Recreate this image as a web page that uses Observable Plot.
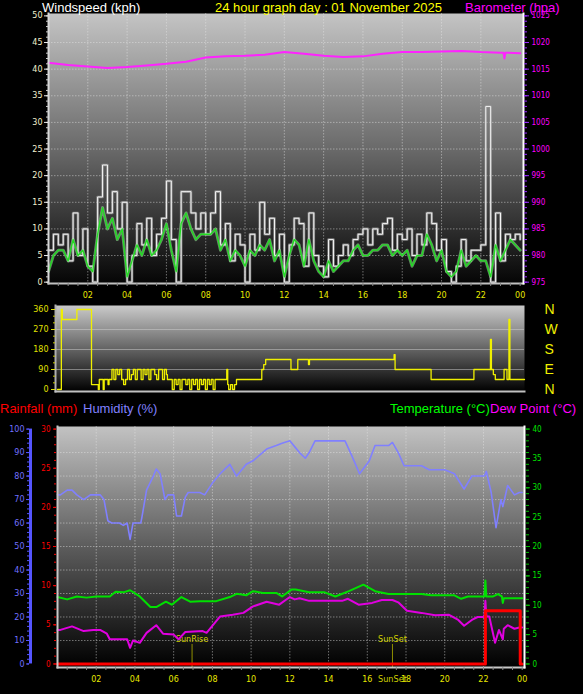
<!DOCTYPE html>
<html><head><meta charset="utf-8">
<script src="https://cdn.jsdelivr.net/npm/d3@7"></script>
<script src="https://cdn.jsdelivr.net/npm/@observablehq/plot@0.6"></script>
<style>
html,body{margin:0;padding:0;background:#000;}
#wrap{position:relative;width:583px;height:694px;background:#000;overflow:hidden;font-family:"Liberation Sans",Arial,sans-serif;}
.panel{position:absolute;left:0;}
.ttl{position:absolute;font-size:13px;line-height:13px;white-space:nowrap;}
</style></head><body>
<div id="wrap">
<div class="panel" id="p1" style="top:0"></div>
<div class="panel" id="p2" style="top:300px"></div>
<div class="panel" id="p3" style="top:400px"></div>
<div class="ttl" style="left:42px;top:1px;color:#ffffff">Windspeed (kph)</div>
<div class="ttl" style="left:215px;top:1px;color:#ffff00">24 hour graph day : 01 November 2025</div>
<div class="ttl" style="left:465px;top:1px;color:#ff00ff">Barometer (hpa)</div>
<div class="ttl" style="left:0px;top:402px;color:#ff0000">Rainfall (mm)</div>
<div class="ttl" style="left:83px;top:402px;color:#8080ff">Humidity (%)</div>
<div class="ttl" style="left:390px;top:402px;color:#00ff00">Temperature (°C)</div>
<div class="ttl" style="left:490px;top:402px;color:#ff00ff">Dew Point (°C)</div>
</div>
<script>
// ---------- DATA ----------
const xTicks = [2,4,6,8,10,12,14,16,18,20,22,24];
const windTicks = [0,5,10,15,20,25,30,35,40,45,50];
const baroBase = 975;
const baroTicks = [975,980,985,990,995,1000,1005,1010,1015,1020,1025];

// wind, 15-minute samples from 00:00 to 24:00
const windGust = [
 6,9,7,9, 4,13,5,10, 3,0,16,22, 13,17,10,15,
 0,5,11,7, 12,5,9,12, 19,8,0,17, 17,13,10,13,
 9,13,17,7, 11,4,9,7, 0,9,6,15, 9,12,5,9,
 0,7,12,11, 3,13,5,3, 1,8,3,5, 7,5,8,9,
 10,7,10,9, 11,12,6,9, 8,10,5,9, 7,13,11,6,
 8,2,0,3, 8,4,6,6, 7,33,0,13, 4,9,8,9, 8];
const windAvg = [
 2,5,6,6, 4,8,5,6, 3,2,9,14, 10,12,8,10,
 1,4,7,5, 8,5,6,8, 11,6,2,11, 13,10,8,9,
 9,9,10,6, 8,4,6,5, 3,6,5,7, 6,8,4,6,
 1,5,8,7, 3,8,4,2, 1,4,2,3, 4,4,6,7,
 5,5,6,6, 7,7,5,6, 5,6,3,5, 5,9,7,4,
 6,2,1,2, 6,3,4,5, 4,4,1,7, 4,6,8,7, 6];

const baroTimes  = [0,1,2,3,4,5,6,7,8,9,10,11,12,13,14,15,16,17,18,19,20,21,22,23,23.15,23.2,23.25,24];
const baroValues = [1016.2,1015.8,1015.5,1015.2,1015.4,1015.7,1016.0,1016.4,1017.2,1017.4,1017.5,1017.7,1018.2,1017.9,1017.5,1017.3,1017.4,1017.9,1018.2,1018.2,1018.3,1018.4,1018.2,1018.1,1018.1,1017.0,1018.1,1018.0];

// wind direction (degrees)
const dirTicks = [0,90,180,270,360];
const compass = ["N","E","S","W","N"];
const dirTimes = [0,0.2,0.25,1.0,1.75,2.1,2.15,2.35,2.4,2.6,2.65,
 2.8,2.9,3.0,3.1,3.2,3.3,3.4,3.5,3.6,3.7,3.8,3.9,4.0,4.1,4.3,4.4,4.5,4.6,4.7,4.8,5.0,5.1,5.2,5.4,5.5,5.6,5.65,
 5.9,6.0,6.1,6.2,6.3,6.4,6.6,6.7,6.8,6.9,7.0,7.1,7.2,7.3,7.4,7.5,7.6,7.7,7.8,7.9,8.0,8.1,
 8.7,8.75,8.8,8.9,9.0,9.1,9.2,10.5,10.6,10.7,12.0,12.35,12.9,12.95,17.3,17.35,19.2,21.4,22.25,22.3,22.4,22.5,22.95,23.1,23.2,23.25,24];
const dirValues = [0,360,315,360,22,0,45,0,45,22,45,
 90,45,90,67,90,45,22,45,90,45,67,90,45,90,45,90,67,90,45,90,67,45,90,45,90,67,45,
 0,45,22,45,0,45,22,45,0,45,22,45,0,45,22,45,0,45,22,45,0,45,
 90,22,0,22,0,22,45,90,112,135,90,135,112,135,157,90,45,90,225,90,67,45,90,45,315,45,45];

// bottom panel
const humTicks = [0,10,20,30,40,50,60,70,80,90,100];
const rainTicks = [0,5,10,15,20,25,30];
const tempTicks = [0,5,10,15,20,25,30,35,40];
const humidity = [[0,72],[0.15,72],[0.5,74],[0.75,74],[1.0,72],[1.35,70],[1.7,72],[2.2,72],[2.4,70],[2.6,61],[2.8,60],[3.2,60],[3.4,59],[3.6,60],[3.75,53],[3.9,60],[4.3,60],[4.35,62],[4.6,74],[4.95,80],[5.1,83],[5.3,81],[5.55,70],[5.7,72],[6.0,72],[6.15,63],[6.4,63],[6.6,71],[6.75,73],[7.35,73],[7.6,72],[8.0,77],[8.4,81],[8.9,85],[9.25,80],[9.75,85],[10.1,86.5],[10.8,91.5],[11.3,93],[11.6,94],[12.0,95],[12.3,92],[12.5,90],[12.8,87.6],[13.0,90],[13.3,95],[14.85,95],[15.2,88.7],[15.6,81],[16.1,86.4],[16.4,93],[17.1,93],[17.3,94.3],[17.6,90],[17.9,84.4],[18.8,84.4],[19.2,82.7],[20.0,82.7],[20.5,81],[21.0,74.5],[21.4,80],[22.05,80],[22.15,82],[22.4,73],[22.65,58],[22.9,70],[23.0,67],[23.25,76],[23.6,72],[23.85,73],[24,73]];
const temperature = [[0,11.4],[0.5,11.0],[1.0,11.5],[1.5,11.3],[2.0,11.5],[2.7,11.5],[3.0,12.3],[3.4,12.2],[3.75,12.55],[4.25,11.5],[4.8,9.7],[5.1,9.7],[5.6,10.6],[5.9,10.1],[6.4,11.4],[6.85,10.6],[7.35,10.7],[8.2,10.7],[8.9,11.4],[9.25,11.95],[9.75,11.7],[10.1,12.4],[10.6,12.1],[11.3,12.1],[11.6,11.5],[12.1,12.7],[12.3,12.7],[13.0,12.2],[13.8,12.2],[14.35,11.5],[15.05,12.4],[15.8,13.5],[16.4,12.4],[17.1,11.9],[18.8,11.9],[19.3,11.7],[20.5,11.7],[20.85,11.1],[21.2,11.5],[22.05,11.5],[22.1,14.2],[22.15,11.5],[22.5,11.5],[22.75,11.9],[22.95,11.5],[23.0,10.4],[23.05,11.2],[23.85,11.2],[24,11.2]];
const dewPoint = [[0,5.8],[0.15,5.8],[0.75,6.4],[1.35,5.6],[1.85,5.8],[2.2,5.8],[2.55,5.15],[2.7,4.2],[3.6,4.2],[3.75,2.75],[3.9,4.0],[4.25,3.6],[4.6,5.3],[5.1,6.6],[5.45,5.15],[6.0,5.0],[6.25,4.2],[6.6,5.45],[7.5,5.6],[7.7,5.3],[8.4,8.1],[9.05,8.4],[9.6,8.7],[10.1,9.8],[10.8,10.6],[11.45,10.1],[12.0,11.4],[12.25,11.0],[12.5,11.2],[13.0,10.75],[14.7,10.75],[15.0,11.1],[15.55,10.1],[16.25,10.4],[16.75,10.9],[17.3,10.9],[17.6,10.5],[18.05,9.05],[18.8,8.7],[19.5,8.3],[20.2,8.4],[20.7,7.5],[21.0,6.5],[21.4,7.5],[21.7,8.0],[22.05,8.0],[22.1,10.75],[22.15,8.1],[22.3,8.1],[22.6,3.6],[22.8,5.8],[23.0,4.2],[23.05,6.0],[23.25,6.6],[23.6,6.0],[23.85,6.2],[24,6.2]];
const rainfall = [[0,0],[22.1,6.8],[23.9,0],[24,0]];
const sunEvents = [{label:"SunRise", h:6.95},{label:"SunSet", h:17.3}];

// ---------- HELPERS ----------
const fmtHour = d => String(d % 24).padStart(2, "0");
const grid = {stroke:"#e8e8e8", strokeOpacity:0.45, strokeDasharray:"1.5,1.5"};
function addGrad(svg, id, stops) {
  const ns = "http://www.w3.org/2000/svg";
  const defs = document.createElementNS(ns, "defs");
  const g = document.createElementNS(ns, "linearGradient");
  g.setAttribute("id", id); g.setAttribute("x1","0"); g.setAttribute("y1","0"); g.setAttribute("x2","0"); g.setAttribute("y2","1");
  for (const [o, c] of stops) {
    const s = document.createElementNS(ns, "stop");
    s.setAttribute("offset", o); s.setAttribute("stop-color", c); g.appendChild(s);
  }
  defs.appendChild(g); svg.insertBefore(defs, svg.firstChild);
}
const baseStyle = {background:"transparent", color:"#ddd", fontFamily:"DejaVu Sans", fontSize:"8px", overflow:"visible"};

// ---------- TOP PANEL ----------
const windData = windGust.map((g, i) => ({h: i / 4, gust: g, avg: windAvg[i]}));
const baroData = baroTimes.map((h, i) => ({h, p: baroValues[i]}));
const p1 = Plot.plot({
  width:583, height:300, marginLeft:48, marginRight:60, marginTop:13, marginBottom:17,
  style: baseStyle,
  x:{domain:[0,24.17], axis:null},
  y:{domain:[-0.25,50.45], axis:null},
  marks:[
    Plot.frame({fill:"url(#gTop)", stroke:null}),
    Plot.ruleX(xTicks.slice(0,-1), grid),
    Plot.ruleY(windTicks.slice(1,-1), grid),
    Plot.line(windData, {x:"h", y:"gust", curve:"step-after", stroke:"#9a9a9a", strokeWidth:2.6, strokeOpacity:0.75}),
    Plot.line(windData, {x:"h", y:"gust", curve:"step-after", stroke:"#f4f4f4", strokeWidth:1}),
    Plot.line(windData, {x:"h", y:"avg", stroke:"#a8f0a8", strokeWidth:3, strokeOpacity:0.5}),
    Plot.line(windData, {x:"h", y:"avg", stroke:"#22dd22", strokeWidth:1.3}),
    Plot.line(baroData, {x:"h", y:d => d.p - baroBase, stroke:"#ff22ff", strokeWidth:2}),
    Plot.frame({anchor:"left", stroke:"#d8d8d8", strokeWidth:2}),
    Plot.frame({anchor:"bottom", stroke:"#c0c0c0", strokeWidth:2}),
    Plot.frame({anchor:"right", stroke:"#ffffff", strokeWidth:2}),
    Plot.axisY({anchor:"left", ticks:d3.range(0,51), tickSize:2, tickFormat:()=>"", stroke:"#cccccc", label:null}),
    Plot.axisY({anchor:"left", ticks:windTicks, tickSize:4, tickPadding:2, stroke:"#eeeeee", fill:"#f2f0d0", label:null}),
    Plot.axisY({anchor:"right", ticks:d3.range(0,51), tickSize:3, tickFormat:()=>"", stroke:"#9a30ff", label:null}),
    Plot.axisY({anchor:"right", ticks:baroTicks.map(p => p - baroBase), tickSize:5, tickPadding:3, tickFormat:d => String(d + baroBase), stroke:"#9a30ff", fill:"#ff00ff", fontFamily:"DejaVu Sans Condensed", label:null}),
    Plot.axisX({anchor:"bottom", ticks:d3.range(0.5,24.1,0.5), tickSize:3, tickFormat:()=>"", stroke:"#888888", label:null}),
    Plot.axisX({anchor:"bottom", ticks:xTicks, tickSize:0, tickPadding:9, tickFormat:fmtHour, fill:"#e8e800", label:null})
  ]
});
addGrad(p1, "gTop", [["0","#c4c4c4"],["0.5","#6a6a6a"],["1","#050505"]]);
document.getElementById("p1").appendChild(p1);

// ---------- MIDDLE PANEL ----------
const dirData = dirTimes.map((h, i) => ({h, d: dirValues[i]}));
const p2 = Plot.plot({
  width:583, height:100, marginLeft:55, marginRight:59, marginTop:5, marginBottom:9,
  style: baseStyle,
  x:{domain:[-0.1,24], axis:null},
  y:{domain:[-9,378], axis:null},
  marks:[
    Plot.frame({fill:"url(#gMid)", stroke:null}),
    Plot.ruleY(dirTicks.slice(1,-1), {stroke:"#cfcfcf", strokeOpacity:0.5}),
    Plot.line(dirData, {x:"h", y:"d", curve:"step-after", stroke:"#f0f000", strokeWidth:1.3}),
    Plot.frame({anchor:"left", stroke:"#b0b0b0", strokeWidth:2}),
    Plot.frame({anchor:"bottom", stroke:"#c0c0c0", strokeWidth:2}),
    Plot.axisY({anchor:"left", ticks:d3.range(0,361,30), tickSize:2, tickFormat:()=>"", stroke:"#c8c800", label:null}),
    Plot.axisY({anchor:"left", ticks:dirTicks, tickSize:4, tickPadding:3, stroke:"#e0e000", fill:"#e0e000", label:null}),
    Plot.axisY({anchor:"right", ticks:dirTicks, tickSize:0, tickPadding:20, tickFormat:d => compass[dirTicks.indexOf(d)], fill:"#f0f000", fontSize:14, fontFamily:"Liberation Sans", textAnchor:"start", label:null})
  ]
});
addGrad(p2, "gMid", [["0","#cacaca"],["1","#000000"]]);
document.getElementById("p2").appendChild(p2);

// ---------- BOTTOM PANEL ----------
const rainScale = 100 / 30, tempScale = 100 / 40;
const yBottom = [-1.5, 101.1];
const humData = humidity.map(([h, v]) => ({h, v}));
const tempData = temperature.map(([h, v]) => ({h, v}));
const dewData = dewPoint.map(([h, v]) => ({h, v}));
const rainData = rainfall.map(([h, v]) => ({h, v}));
const p3 = Plot.plot({
  width:583, height:294, marginLeft:57, marginRight:59, marginTop:26, marginBottom:27,
  style: baseStyle,
  x:{domain:[0,24.12], axis:null},
  y:{domain:yBottom, axis:null},
  marks:[
    Plot.frame({fill:"url(#gBot)", stroke:null}),
    Plot.ruleX(xTicks.slice(0,-1), grid),
    Plot.ruleY(humTicks.slice(1,-1), grid),
    Plot.ruleX(sunEvents, {x:"h", y1:yBottom[0], y2:8.3, stroke:"#909000", strokeWidth:1}),
    Plot.text(sunEvents, {x:"h", y:8.3, text:"label", dy:-5, fill:"#d0d000", fontSize:9, fontFamily:"DejaVu Sans Condensed"}),
    Plot.line(humData, {x:"h", y:"v", stroke:"#8080ff", strokeWidth:1.6}),
    Plot.line(tempData, {x:"h", y:d => d.v * tempScale, stroke:"#00e000", strokeWidth:2}),
    Plot.line(dewData, {x:"h", y:d => d.v * tempScale, stroke:"#e000e0", strokeWidth:2}),
    Plot.line(rainData, {x:"h", y:d => d.v * rainScale, curve:"step-after", stroke:"#ff0000", strokeWidth:3}),
    Plot.frame({anchor:"left", stroke:"#c8c8c8", strokeWidth:2}),
    Plot.frame({anchor:"bottom", stroke:"#c8c8c8", strokeWidth:2}),
    Plot.frame({anchor:"right", stroke:"#ffffff", strokeWidth:2}),
    // humidity axis
    Plot.ruleX([0], {y1:0, y2:100, dx:-27, stroke:"#5555ff", strokeWidth:3}),
    Plot.axisY({anchor:"left", dx:-28, ticks:d3.range(0,101,2), tickSize:2, tickFormat:()=>"", stroke:"#5555ff", label:null}),
    Plot.axisY({anchor:"left", dx:-28, ticks:humTicks, tickSize:3, tickPadding:2, stroke:"#5555ff", fill:"#7070ff", label:null}),
    // rain axis
    Plot.axisY({anchor:"left", dx:-1, ticks:d3.range(0,31).map(r => r * rainScale), tickSize:2, tickFormat:()=>"", stroke:"#ff0000", label:null}),
    Plot.axisY({anchor:"left", dx:-1, ticks:rainTicks.map(r => r * rainScale), tickSize:3, tickPadding:3, tickFormat:d => Math.round(d / rainScale), stroke:"#ff0000", fill:"#ff0000", fontFamily:"DejaVu Sans Condensed", label:null}),
    // temperature axis
    Plot.axisY({anchor:"right", dx:1, ticks:d3.range(0,41).map(t => t * tempScale), tickSize:3, tickFormat:()=>"", stroke:"#00c000", label:null}),
    Plot.axisY({anchor:"right", dx:1, ticks:tempTicks.map(t => t * tempScale), tickSize:4, tickPadding:3, tickFormat:d => Math.round(d / tempScale), stroke:"#00c000", fill:"#00e000", fontFamily:"DejaVu Sans Condensed", label:null}),
    Plot.axisX({anchor:"bottom", ticks:d3.range(0.5,24.1,0.5), tickSize:3, tickFormat:()=>"", stroke:"#888888", label:null}),
    Plot.axisX({anchor:"bottom", ticks:xTicks, tickSize:0, tickPadding:9, tickFormat:fmtHour, fill:"#e8e800", label:null}),
    Plot.text(sunEvents.filter(d => d.label === "SunSet"), {x:"h", y:yBottom[0], text:"label", dy:12, fill:"#d0d000", fontSize:9, fontFamily:"DejaVu Sans Condensed"})
  ]
});
addGrad(p3, "gBot", [["0","#c2c2c2"],["0.5","#5c5c5c"],["1","#000000"]]);
document.getElementById("p3").appendChild(p3);
</script>
</body></html>
